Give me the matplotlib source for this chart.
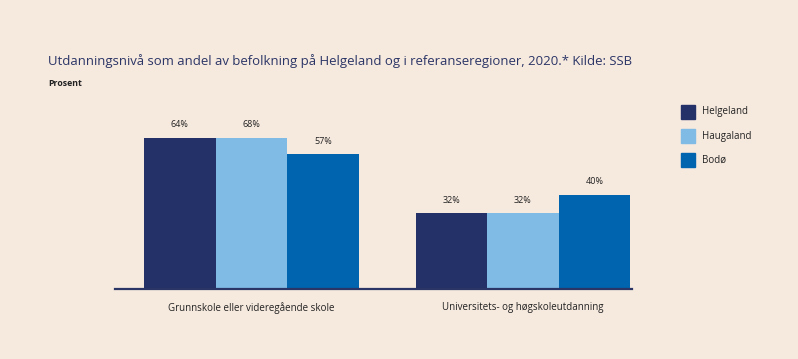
import numpy as np
import matplotlib.pyplot as plt
from matplotlib.patches import Rectangle

plt.rcParams['font.family'] = ['Open Sans', 'DejaVu Sans']

# data
categories = ['Grunnskole eller videregående skole', 'Universitets- og høgskoleutdanning']
regions = ['Helgeland', 'Haugaland', 'Bodø']
# bar heights as drawn in the original (Haugaland bar in group 1 is drawn at 64)
heights = {
    'Helgeland': [64, 32],
    'Haugaland': [64, 32],
    'Bodø': [57, 40],
}
labels = {
    'Helgeland': ['64%', '32%'],
    'Haugaland': ['68%', '32%'],
    'Bodø': ['57%', '40%'],
}
colors = {'Helgeland': '#243168', 'Haugaland': '#7fbbe5', 'Bodø': '#0064ae'}

bg = '#f6e9de'
navy = '#2b3566'

fig = plt.figure(figsize=(7.98, 3.59), dpi=100, facecolor=bg)
ax = fig.add_axes([115 / 798, 70 / 359, 517 / 798, 189 / 359])
ax.set_facecolor(bg)

x = np.arange(len(categories))
w = 0.2635
for i, r in enumerate(regions):
    pos = x + (i - 1) * w
    ax.bar(pos, heights[r], width=w, color=colors[r], linewidth=0)
    for p, h, lab in zip(pos, heights[r], labels[r]):
        ax.text(p, h + 5.5, lab, ha='center', va='center', fontsize=6.5, color='#222222')

ax.set_xlim(-0.502, 1.402)
ax.set_ylim(0, 80)
for s in ['top', 'right', 'left']:
    ax.spines[s].set_visible(False)
ax.spines['bottom'].set_color(navy)
ax.spines['bottom'].set_linewidth(1.6)
ax.set_yticks([])
ax.set_xticks(x)
ax.set_xticklabels(categories, fontsize=7, color='#222222')
ax.tick_params(axis='x', length=0, pad=9.5)

fig.text(48 / 798, 1 - 61 / 359, 'Utdanningsnivå som andel av befolkning på Helgeland og i referanseregioner, 2020.* Kilde: SSB',
         fontsize=9.45, color=navy, va='center', ha='left')
fig.text(48 / 798, 1 - 84 / 359, 'Prosent', fontsize=6.3, fontweight='bold', color='#222222', va='center', ha='left')

# legend
for k, r in enumerate(regions):
    yc = 112 + k * 24
    fig.patches.append(Rectangle((681 / 798, 1 - (yc + 7) / 359), 14 / 798, 14 / 359,
                                 transform=fig.transFigure, color=colors[r], figure=fig))
    fig.text(702 / 798, 1 - yc / 359, r, fontsize=7, color='#222222', va='center', ha='left')

fig.savefig('out.png', dpi=100, facecolor=bg)
